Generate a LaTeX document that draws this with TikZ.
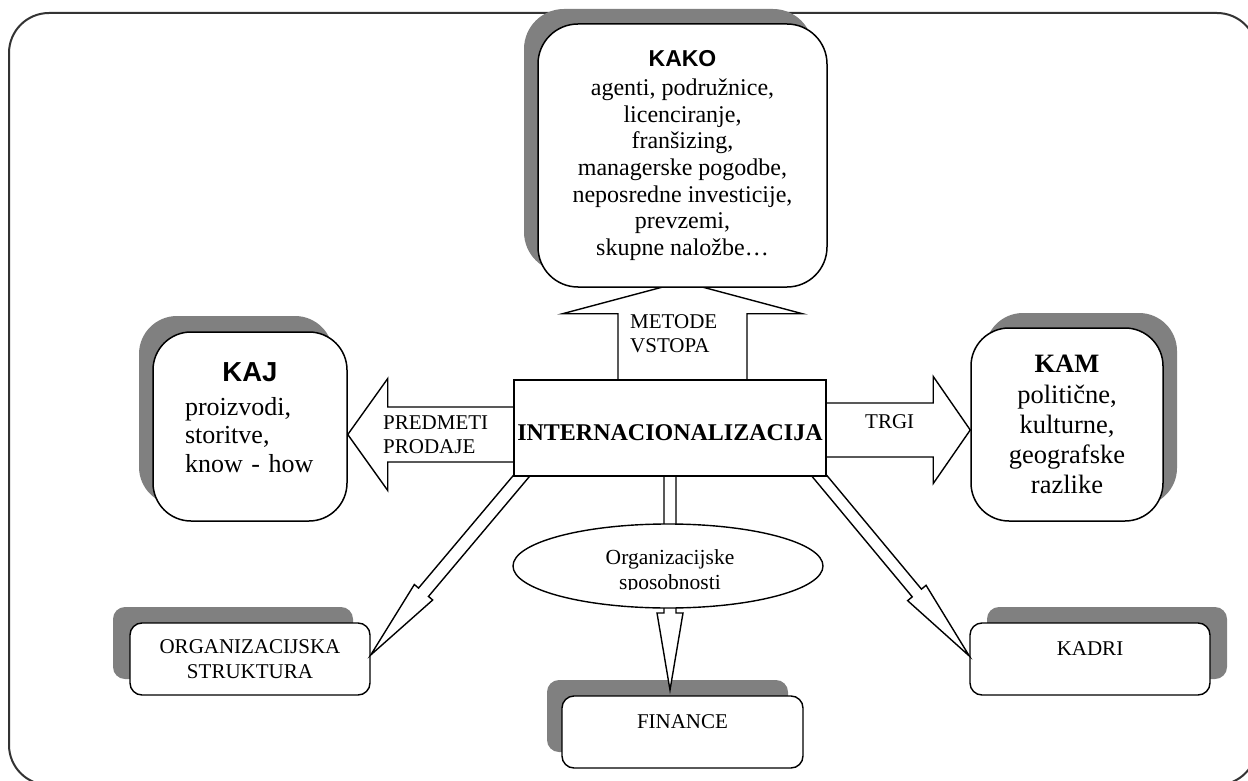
\documentclass[tikz,border=0pt]{standalone}
\usepackage{fontspec}
\setmainfont{Liberation Serif}
\setsansfont{Liberation Sans}
\usetikzlibrary{calc,shadows,shapes.geometric}

\pgfdeclarelayer{frame}
\pgfdeclarelayer{lower}
\pgfdeclarelayer{arrows}
\pgfsetlayers{frame,lower,arrows,main}

\definecolor{shade}{HTML}{808080}
\definecolor{framegray}{HTML}{333333}

% block arrow: start, tip, half shaft width, half head width, head length
\newcommand\blockarr[5]{%
  \coordinate (ba-h) at ($(#2)!#5!(#1)$);
  \draw[blockarrow] ($(#1)!#3!90:(#2)$) -- ($(ba-h)!#3!90:(#2)$)
    -- ($(ba-h)!#4!90:(#2)$) -- (#2) -- ($(ba-h)!#4!-90:(#2)$)
    -- ($(ba-h)!#3!-90:(#2)$) -- ($(#1)!#3!-90:(#2)$) -- cycle;
}

\begin{document}
\begin{tikzpicture}[x=1pt,y=-1pt,
  txt/.style={font=\fontsize{21}{24}\selectfont, inner sep=0pt},
  bigbox/.style={draw, line width=1.5pt, fill=white, rounded corners=38pt,
    inner sep=0pt, align=center},
  smallbox/.style={draw, line width=1.4pt, fill=white, rounded corners=12pt,
    inner sep=0pt, align=center, font=\fontsize{21}{24.5}\selectfont},
  blockarrow/.style={draw, fill=white, line width=1.4pt, line join=miter},
]
\useasboundingbox (0,0) rectangle (1248,781);

% outer frame
\begin{pgfonlayer}{frame}
  \draw[framegray, line width=2pt, rounded corners=40pt] (9,13) rectangle (1257,785);
\end{pgfonlayer}

% boxes lying under the arrows
\begin{pgfonlayer}{lower}
  \node[bigbox, general shadow={fill=shade, shadow xshift=-14pt, shadow yshift=16pt},
    minimum width=194pt, minimum height=189pt, text width=130pt, align=left,
    font=\fontsize{26}{28.7}\selectfont] (kaj) at (250,426.5)
    {\makebox[130pt][c]{\fontsize{27.5}{28}\selectfont\sffamily\bfseries KAJ}\\[5pt]
     proizvodi,\\ storitve,\\ know - how\rule[-18pt]{0pt}{18pt}};

  \node[bigbox, general shadow={fill=shade, shadow xshift=14pt, shadow yshift=15pt},
    minimum width=192pt, minimum height=193pt,
    font=\fontsize{26.5}{30}\selectfont] (kam) at (1067,424.5)
    {\textbf{KAM}\\[1pt] politične,\\ kulturne,\\ geografske\\ razlike};

  \node[smallbox, general shadow={fill=shade, shadow xshift=-17pt, shadow yshift=16pt},
    minimum width=240pt, minimum height=72pt] (org) at (250,659)
    {ORGANIZACIJSKA\\ STRUKTURA};

  \node[smallbox, general shadow={fill=shade, shadow xshift=17pt, shadow yshift=16pt},
    minimum width=240pt, minimum height=72pt, text height=14pt, text depth=22pt]
    (kadri) at (1090,659) {KADRI};

  \node[smallbox, general shadow={fill=shade, shadow xshift=-15pt, shadow yshift=16pt},
    minimum width=241pt, minimum height=72pt, text height=14pt, text depth=22pt]
    (fin) at (682.5,732) {FINANCE};
\end{pgfonlayer}

% boxes lying over the arrows
\node[bigbox, rounded corners=40pt,
  general shadow={fill=shade, shadow xshift=-14pt, shadow yshift=15pt},
  minimum width=289pt, minimum height=263pt,
  font=\fontsize{24}{26.6}\selectfont] (kako) at (682.5,155.5)
  {{\sffamily\bfseries\fontsize{23}{26.6}\selectfont KAKO}\\[2.4pt]
   agenti, podružnice,\\ licenciranje,\\ franšizing,\\ managerske pogodbe,\\
   neposredne investicije,\\ prevzemi,\\ skupne naložbe…};

\node[draw, line width=1.8pt, fill=white, minimum width=312pt, minimum height=96pt,
  inner sep=0pt, text height=24pt, text depth=0pt,
  font=\fontsize{24}{28}\selectfont\bfseries] (intl) at (670,428) {INTERNACIONALIZACIJA};

% arrow end points
\coordinate (lS) at (530,434.5);
\coordinate (lT) at (kaj.east |- lS);
\coordinate (rS) at (810,430);
\coordinate (rT) at (kam.west |- rS);
\coordinate (uS) at (682.5,395);
\coordinate (uT) at ([yshift=6pt]kako.south);
\coordinate (dS) at (670,460);
\coordinate (dT) at (670,690);
\coordinate (oS) at (533.4,461.7);
\coordinate (oT) at ([yshift=4pt]org.east);
\coordinate (kS) at (807.2,461.2);
\coordinate (kT) at ([yshift=3pt]kadri.west);

\begin{pgfonlayer}{arrows}
  \blockarr{lS}{lT}{27.5pt}{56pt}{40pt}
  \blockarr{rS}{rT}{27pt}{53.5pt}{37pt}
  \blockarr{uS}{uT}{64.5pt}{120pt}{32pt}
  \blockarr{dS}{dT}{6pt}{13pt}{77pt}
  \blockarr{oS}{oT}{6.5pt}{12pt}{82pt}
  \blockarr{kS}{kT}{6pt}{12pt}{82pt}
\end{pgfonlayer}

% ellipse over the central arrow, its text cut at the lower edge
\node[ellipse, draw, line width=1.4pt, fill=white, minimum width=310pt,
  minimum height=84pt, inner sep=0pt] (osp) at (668,566) {};
\begin{scope}
  \clip (500,520) rectangle (840,589);
  \node[txt, align=center, anchor=north, font=\fontsize{21.5}{24.5}\selectfont]
    (osptext) at (670,549.5) {Organizacijske\\ sposobnosti};
\end{scope}

% arrow labels
\node[txt, align=left, anchor=north west] (predmeti) at (383,416) {PREDMETI\\ PRODAJE};
\node[txt, anchor=base west] (trgi) at (865,428) {TRGI};
\node[txt, align=left, anchor=north west] (metode) at (630,314) {METODE\\ VSTOPA};
\end{tikzpicture}
\end{document}
